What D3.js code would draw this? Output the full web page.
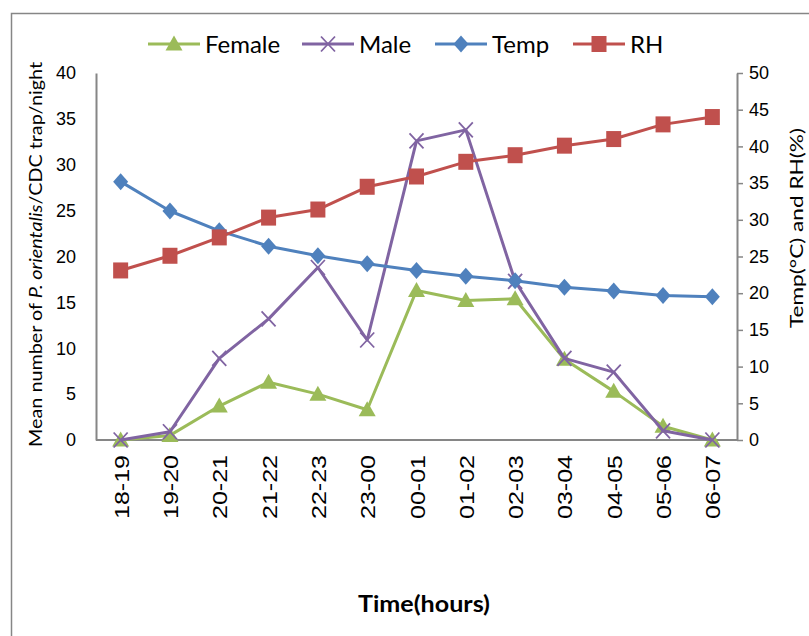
<!DOCTYPE html>
<html>
<head>
<meta charset="utf-8">
<script src="https://cdn.jsdelivr.net/npm/d3@7"></script>
<style>
  html, body { margin: 0; padding: 0; background: #fff; }
  svg { display: block; font-family: Lato, "Open Sans", sans-serif; }
</style>
</head>
<body>
<svg id="chart" width="809" height="636"></svg>
<script>
// Hourly trap periods (x categories)
const periods = ["18-19","19-20","20-21","21-22","22-23","23-00","00-01","01-02","02-03","03-04","04-05","05-06","06-07"];
// Mean sand fly catches per CDC trap/night (left axis)
const female = [0, 0.5, 3.7, 6.3, 5.0, 3.3, 16.3, 15.2, 15.4, 8.8, 5.3, 1.5, 0];
const male   = [0, 0.9, 8.9, 13.2, 18.8, 10.9, 32.6, 33.8, 17.3, 8.9, 7.4, 1.0, 0];
// Climate readings (right axis)
const temp = [35.2, 31.2, 28.5, 26.4, 25.1, 24.0, 23.1, 22.3, 21.7, 20.8, 20.3, 19.7, 19.5];
const rh   = [23.1, 25.1, 27.6, 30.3, 31.4, 34.5, 35.9, 37.9, 38.8, 40.1, 41.0, 43.0, 44.0];
// Axis ticks
const leftTicks = [0, 5, 10, 15, 20, 25, 30, 35, 40];
const rightTicks = [0, 5, 10, 15, 20, 25, 30, 35, 40, 45, 50];

const svg = d3.select("#chart");
const plot = { left: 96, right: 737, top: 73, bottom: 440 };
const axisColor = "#868686";

// Outer frame
svg.append("path")
  .attr("d", "M11.5,636 L11.5,13.5 L809,13.5")
  .attr("fill", "none").attr("stroke", axisColor).attr("stroke-width", 1.5);

const x = d3.scalePoint().domain(periods).range([plot.left, plot.right]).padding(0.5);
const yL = d3.scaleLinear().domain([0, 40]).range([plot.bottom, plot.top]);
const yR = d3.scaleLinear().domain([0, 50]).range([plot.bottom, plot.top]);

// Left axis
const gL = svg.append("g").attr("transform", `translate(${plot.left},0)`)
  .call(d3.axisLeft(yL).tickValues(leftTicks).tickSize(0).tickPadding(20));
gL.select(".domain").attr("stroke", axisColor).attr("stroke-width", 2);
gL.selectAll("text").attr("font-size", 18).attr("fill", "#000");

// Right axis
const gR = svg.append("g").attr("transform", `translate(${plot.right},0)`)
  .call(d3.axisRight(yR).tickValues(rightTicks).tickSize(6).tickSizeOuter(0).tickPadding(6));
gR.select(".domain").attr("stroke", axisColor).attr("stroke-width", 2);
gR.selectAll(".tick line").attr("stroke", axisColor).attr("stroke-width", 1.5);
gR.selectAll("text").attr("font-size", 18).attr("fill", "#000");

// Bottom axis with rotated period labels
const gB = svg.append("g").attr("transform", `translate(0,${plot.bottom})`)
  .call(d3.axisBottom(x).tickSize(0).tickSizeOuter(0));
gB.select(".domain").attr("stroke", axisColor).attr("stroke-width", 2)
  .attr("d", `M${plot.left},0H${plot.right}`);
gB.selectAll("text")
  .attr("font-size", 21).attr("fill", "#000")
  .attr("transform", "rotate(-90)")
  .attr("text-anchor", "end")
  .attr("textLength", 64).attr("lengthAdjust", "spacingAndGlyphs")
  .attr("x", -15).attr("y", 0).attr("dy", "0.36em");

// Axis titles
const leftTitle = svg.append("text")
  .attr("transform", `translate(42,${(plot.top + plot.bottom) / 2 - 2}) rotate(-90)`)
  .attr("text-anchor", "middle").attr("font-size", 18).attr("fill", "#000")
  .attr("textLength", 385).attr("lengthAdjust", "spacingAndGlyphs");
leftTitle.append("tspan").text("Mean number of ");
leftTitle.append("tspan").attr("font-style", "italic").text("P. orientalis");
leftTitle.append("tspan").text("/CDC trap/night");

svg.append("text")
  .attr("transform", "translate(803,228) rotate(-90)")
  .attr("text-anchor", "middle").attr("font-size", 18).attr("fill", "#000")
  .attr("textLength", 200).attr("lengthAdjust", "spacingAndGlyphs")
  .text("Temp(°C) and RH(%)");

svg.append("text")
  .attr("x", 424).attr("y", 612)
  .attr("text-anchor", "middle").attr("font-size", 22).attr("font-weight", "bold").attr("fill", "#000")
  .attr("textLength", 132).attr("lengthAdjust", "spacingAndGlyphs")
  .text("Time(hours)");

// Series definitions
const series = [
  { name: "Female", values: female, scale: yL, color: "#9BBB59", marker: "triangle" },
  { name: "Male",   values: male,   scale: yL, color: "#8064A2", marker: "x" },
  { name: "Temp",   values: temp,   scale: yR, color: "#4F81BD", marker: "diamond" },
  { name: "RH",     values: rh,     scale: yR, color: "#C0504D", marker: "square" }
];

function drawMarker(g, type, color) {
  if (type === "triangle") {
    g.append("path").attr("d", "M0,-8.5 L8.5,6.5 L-8.5,6.5 Z").attr("fill", color);
  } else if (type === "diamond") {
    g.append("path").attr("d", "M0,-8.5 L7.5,0 L0,8.5 L-7.5,0 Z").attr("fill", color);
  } else if (type === "square") {
    g.append("rect").attr("x", -7.5).attr("y", -8).attr("width", 15).attr("height", 16).attr("fill", color);
  } else if (type === "x") {
    g.append("path").attr("d", "M-7,-7.5 L7,7.5 M-7,7.5 L7,-7.5")
      .attr("stroke", color).attr("stroke-width", 1.8).attr("fill", "none");
  }
}

const line = sc => d3.line().x((d, i) => x(periods[i])).y(d => sc(d));

series.forEach(s => {
  const g = svg.append("g");
  g.append("path")
    .datum(s.values)
    .attr("d", line(s.scale))
    .attr("fill", "none")
    .attr("stroke", s.color)
    .attr("stroke-width", 3)
    .attr("stroke-linejoin", "round");
  s.values.forEach((v, i) => {
    const m = g.append("g").attr("transform", `translate(${x(periods[i])},${s.scale(v)})`);
    drawMarker(m, s.marker, s.color);
  });
});

// Legend
const legendItems = [
  { s: series[0], x0: 148 },
  { s: series[1], x0: 302 },
  { s: series[2], x0: 435 },
  { s: series[3], x0: 573 }
];
const ly = 44;
legendItems.forEach(({ s, x0 }) => {
  const g = svg.append("g");
  g.append("line").attr("x1", x0).attr("x2", x0 + 52).attr("y1", ly).attr("y2", ly)
    .attr("stroke", s.color).attr("stroke-width", 3);
  const m = g.append("g").attr("transform", `translate(${x0 + 26},${ly})`);
  drawMarker(m, s.marker, s.color);
  g.append("text").attr("x", x0 + 57).attr("y", ly).attr("dy", "0.36em")
    .attr("font-size", 24).attr("fill", "#000").text(s.name);
});
</script>
</body>
</html>
